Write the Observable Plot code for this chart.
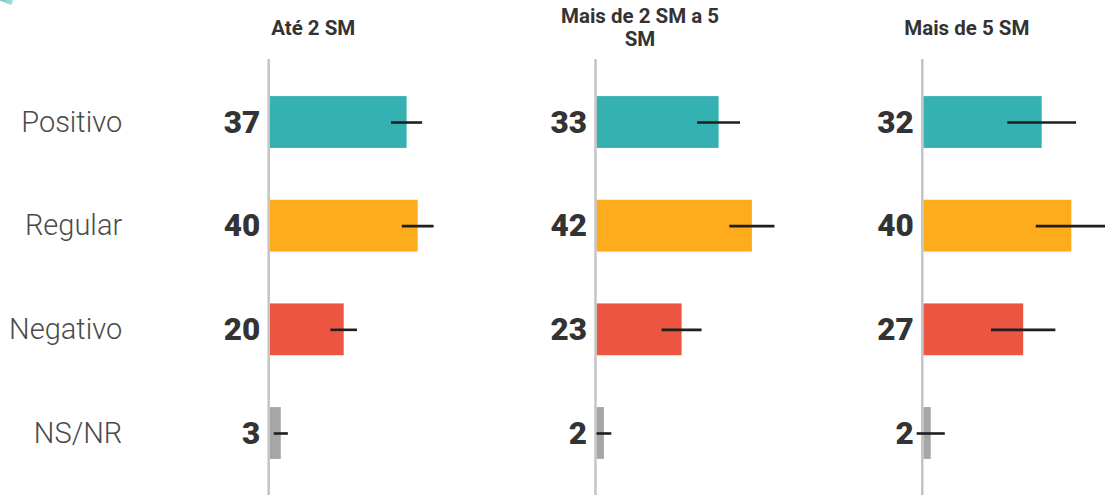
<!DOCTYPE html>
<html>
<head>
<meta charset="utf-8">
<script src="https://cdn.jsdelivr.net/npm/d3@7"></script>
<script src="https://cdn.jsdelivr.net/npm/@observablehq/plot@0.6"></script>
<style>
  html, body { margin: 0; padding: 0; background: #fff; }
  #chart { position: relative; width: 1105px; height: 495px; overflow: hidden; }
  #logo { position: absolute; left: -5px; top: -3px; width: 18px; height: 5px;
          background: linear-gradient(90deg, #1d9c9c, #9adada); transform: rotate(22deg); opacity: 0.8; }
</style>
</head>
<body>
<div id="chart"><div id="logo"></div></div>
<script>
// ---- data ----
const groups = ["Até 2 SM", "Mais de 2 SM a 5 SM", "Mais de 5 SM"];
const groupTitles = ["Até 2 SM", "Mais de 2 SM a 5\nSM", "Mais de 5 SM"];
const categories = ["Positivo", "Regular", "Negativo", "NS/NR"];
const valuesAte2 = [37, 40, 20, 3];
const values2a5 = [33, 42, 23, 2];
const valuesMais5 = [32, 40, 27, 2];
const marginAte2 = [4.2, 4.3, 3.6, 1.9];
const margin2a5 = [5.8, 6.1, 5.4, 2.0];
const marginMais5 = [9.3, 9.6, 8.7, 3.8];
const colors = ["#35b1b1", "#feac1b", "#ec5541", "#a6a6a6"];

const seriesValues = [valuesAte2, values2a5, valuesMais5];
const seriesMargins = [marginAte2, margin2a5, marginMais5];
const data = groups.flatMap((g, gi) => categories.map((c, ci) => ({
  group: g, category: c, value: seriesValues[gi][ci], err: seriesMargins[gi][ci]
})));

// ---- layout ----
const W = 1105, H = 495;
const pxPerUnit = 3.7, step = 326.8, xMax = 48;
const bw = xMax * pxPerUnit;
const padIn = 1 - bw / step;
const mLeft = 269.7;
const mRight = W - (mLeft + step * (3 - padIn));

const plot = Plot.plot({
  width: W,
  height: H,
  marginLeft: mLeft,
  marginRight: mRight,
  marginTop: 65,
  marginBottom: 5,
  style: { fontFamily: "Roboto, 'Open Sans', sans-serif", background: "transparent", overflow: "visible" },
  fx: { domain: groups, paddingInner: padIn, paddingOuter: 0, round: false, axis: null },
  x: { domain: [0, xMax], axis: null },
  y: { domain: categories, paddingInner: 0.5, paddingOuter: 0.3, round: false, axis: null },
  color: { domain: categories, range: colors },
  marks: [
    Plot.barX(data, { x: "value", y: "category", fx: "group", fill: "category" }),
    Plot.ruleX([0], { stroke: "#c4c4c4", strokeWidth: 2.5, dx: -1.5, insetTop: -6, insetBottom: -6 }),
    Plot.ruleY(data, {
      y: "category", fx: "group",
      x1: d => d.value - d.err, x2: d => d.value + d.err,
      stroke: "#1f1f1f", strokeWidth: 2.6
    }),
    Plot.text(data, {
      x: 0, y: "category", fx: "group", text: d => String(d.value),
      textAnchor: "end", dx: -10, fontSize: 31.5, fontWeight: 900, fill: "#333333"
    }),
    Plot.text(categories, {
      y: d => d, fx: () => groups[0], frameAnchor: "left",
      textAnchor: "end", dx: -148, fontSize: 29, fontWeight: 300, fill: "#4a4a4a"
    }),
    Plot.text(groups, {
      fx: d => d, text: (d, i) => groupTitles[i], frameAnchor: "top-left",
      lineAnchor: "middle", textAnchor: "middle", dx: 43, dy: -38,
      fontSize: 20.5, fontWeight: "bold", fill: "#333333", lineHeight: 1.09
    })
  ]
});
document.getElementById("chart").appendChild(plot);
</script>
</body>
</html>
